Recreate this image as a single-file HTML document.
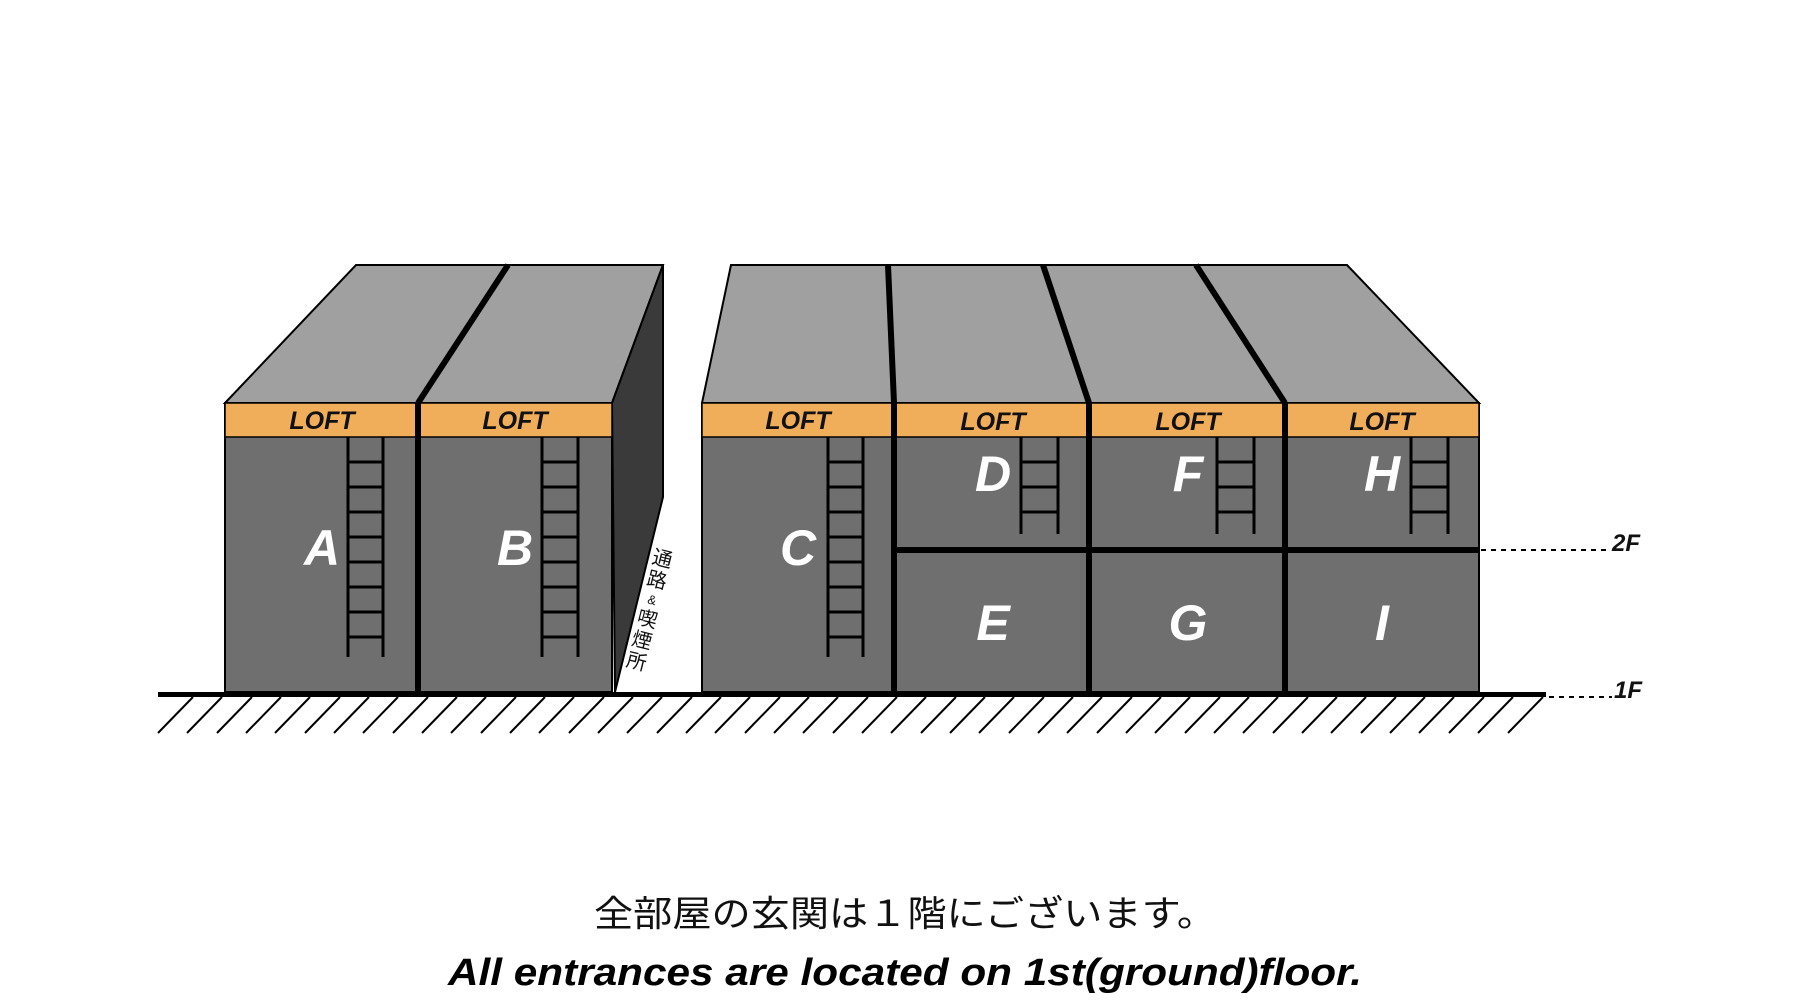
<!DOCTYPE html>
<html><head><meta charset="utf-8"><style>html,body{margin:0;padding:0;background:#fff;}svg{display:block;}</style></head>
<body>
<svg width="1800" height="1000" viewBox="0 0 1800 1000" xmlns="http://www.w3.org/2000/svg">
<rect width="1800" height="1000" fill="#fff"/>
<!-- left block -->
<polygon points="225,403 356,265 663,265 612,403" fill="#a0a0a0" stroke="#000" stroke-width="2"/>
<polygon points="612,403 663,265 663,497 615,692" fill="#3a3a3a" stroke="#000" stroke-width="2"/>
<rect x="225" y="403" width="387" height="289" fill="#6f6f6f" stroke="#000" stroke-width="2"/>
<rect x="225" y="403" width="387" height="34" fill="#f0ad5a" stroke="#000" stroke-width="1.5"/>
<line x1="418" y1="403" x2="508" y2="265" stroke="#000" stroke-width="6"/>
<line x1="418" y1="403" x2="418" y2="692" stroke="#000" stroke-width="6"/>
<!-- right block -->
<polygon points="702,403 731,265 1347,265 1479,403" fill="#a0a0a0" stroke="#000" stroke-width="2"/>
<rect x="702" y="403" width="777" height="289" fill="#6f6f6f" stroke="#000" stroke-width="2"/>
<rect x="702" y="403" width="777" height="34" fill="#f0ad5a" stroke="#000" stroke-width="1.5"/>
<g stroke="#000" stroke-width="6">
<line x1="894" y1="403" x2="888" y2="265"/><line x1="894" y1="403" x2="894" y2="692"/>
<line x1="1089" y1="403" x2="1043" y2="265"/><line x1="1089" y1="403" x2="1089" y2="692"/>
<line x1="1285" y1="403" x2="1196" y2="265"/><line x1="1285" y1="403" x2="1285" y2="692"/>
<line x1="894" y1="550" x2="1479" y2="550"/>
</g>
<!-- ladders -->
<g stroke="#000" stroke-width="3" fill="none">
<path d="M348,437V657M383,437V657M348,462H383M348,487H383M348,512H383M348,537H383M348,562H383M348,587H383M348,612H383M348,637H383"/>
<path d="M542,437V657M578,437V657M542,462H578M542,487H578M542,512H578M542,537H578M542,562H578M542,587H578M542,612H578M542,637H578"/>
<path d="M828,437V657M863,437V657M828,462H863M828,487H863M828,512H863M828,537H863M828,562H863M828,587H863M828,612H863M828,637H863"/>
<path d="M1021,437V534M1058,437V534M1021,462H1058M1021,487H1058M1021,512H1058"/>
<path d="M1217,437V534M1254,437V534M1217,462H1254M1217,487H1254M1217,512H1254"/>
<path d="M1411,437V534M1448,437V534M1411,462H1448M1411,487H1448M1411,512H1448"/>
</g>
<!-- LOFT labels -->
<g font-family="Liberation Sans, sans-serif" font-weight="bold" font-style="italic" font-size="25" text-anchor="middle" fill="#111">
<text x="322" y="429">LOFT</text><text x="515" y="429">LOFT</text><text x="798" y="429">LOFT</text>
<text x="993" y="430">LOFT</text><text x="1188" y="430">LOFT</text><text x="1382" y="430">LOFT</text>
</g>
<g font-family="Liberation Sans, sans-serif" font-weight="bold" font-style="italic" font-size="50" text-anchor="middle" fill="#fff">
<text x="322" y="565">A</text><text x="515" y="565">B</text><text x="798" y="565">C</text>
<text x="993" y="491">D</text><text x="1188" y="491">F</text><text x="1382" y="491">H</text>
<text x="993" y="640">E</text><text x="1188" y="640">G</text><text x="1382" y="640">I</text>
</g>
<!-- vertical label -->
<g transform="translate(665,548) rotate(14)" font-family="Liberation Sans, Noto Sans CJK JP, sans-serif" font-size="20" fill="#111" text-anchor="middle">
<text x="0" y="18">通</text><text x="0" y="40">路</text><text x="0" y="58" font-size="13">&amp;</text>
<text x="0" y="80">喫</text><text x="0" y="102">煙</text><text x="0" y="124">所</text>
</g>
<!-- ground -->
<line x1="158" y1="694.5" x2="1546" y2="694.5" stroke="#000" stroke-width="5"/>
<g stroke="#000" stroke-width="2">
<path d="M193,697L158,733 M222,697L187,733 M252,697L217,733 M281,697L246,733 M310,697L275,733 M340,697L305,733 M369,697L334,733 M398,697L363,733 M428,697L393,733 M457,697L422,733 M486,697L451,733 M516,697L481,733 M545,697L510,733 M574,697L539,733 M604,697L569,733 M633,697L598,733 M662,697L627,733 M692,697L657,733 M721,697L686,733 M750,697L715,733 M780,697L745,733 M809,697L774,733 M838,697L803,733 M868,697L833,733 M897,697L862,733 M926,697L891,733 M956,697L921,733 M985,697L950,733 M1014,697L979,733 M1044,697L1009,733 M1073,697L1038,733 M1102,697L1067,733 M1132,697L1097,733 M1161,697L1126,733 M1190,697L1155,733 M1220,697L1185,733 M1249,697L1214,733 M1278,697L1243,733 M1308,697L1273,733 M1337,697L1302,733 M1366,697L1331,733 M1396,697L1361,733 M1425,697L1390,733 M1454,697L1419,733 M1484,697L1449,733 M1513,697L1478,733 M1543,697L1508,733"/>
</g>
<!-- floor markers -->
<g stroke="#000" stroke-width="2" stroke-dasharray="5,5">
<line x1="1481" y1="550" x2="1610" y2="550"/>
<line x1="1549" y1="697" x2="1612" y2="697"/>
</g>
<g font-family="Liberation Sans, sans-serif" font-weight="bold" font-style="italic" font-size="24" fill="#111">
<text x="1612" y="551">2F</text><text x="1614" y="698">1F</text>
</g>
<!-- captions -->
<text x="905" y="926" text-anchor="middle" font-family="Liberation Sans, Noto Sans CJK JP, sans-serif" font-size="36" fill="#111" textLength="622" lengthAdjust="spacingAndGlyphs">全部屋の玄関は１階にございます。</text>
<text x="905" y="985" text-anchor="middle" font-family="Liberation Sans, sans-serif" font-weight="bold" font-style="italic" font-size="38" fill="#000" textLength="914" lengthAdjust="spacingAndGlyphs">All entrances are located on 1st(ground)floor.</text>
</svg>
</body></html>
